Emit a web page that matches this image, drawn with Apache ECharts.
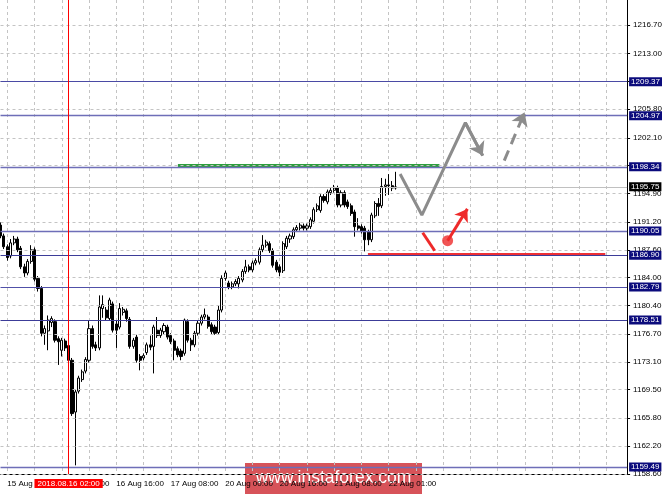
<!DOCTYPE html>
<html><head><meta charset="utf-8">
<script src="https://cdn.jsdelivr.net/npm/echarts@6/dist/echarts.min.js"></script>
<style>html,body{margin:0;padding:0;background:#fff}#c{width:665px;height:494px}</style>
</head><body><div id="c"></div>
<script>
// ---------- data ----------
const tickValues = [1158.60,1162.20,1165.80,1169.50,1173.10,1176.70,1180.40,1184.00,1187.60,1191.20,1194.90,1198.50,1202.10,1205.80,1209.40,1213.00,1216.70];
const levels = [1209.37,1204.97,1198.34,1190.05,1186.90,1182.79,1178.51,1159.49];
const currentPrice = 1195.75;
const xTickLabels = ['15 Aug 08:00','16 Aug 00:00','16 Aug 16:00','17 Aug 08:00','20 Aug 00:00','20 Aug 16:00','21 Aug 08:00','22 Aug 01:00'];
const markerIndex = 20;
const markerLabel = '2018.08.16 02:00';

const opens = [1190.8,1189.4,1188.0,1186.8,1188.5,1189.0,1187.8,1185.4,1184.6,1186.1,
1187.6,1183.9,1182.6,1176.8,1177.1,1178.2,1178.3,1176.1,1174.6,1175.8,
1175.2,1173.3,1166.6,1169.3,1170.8,1171.9,1173.3,1177.4,1175.3,1174.9,
1180.0,1179.8,1178.7,1180.6,1178.0,1177.6,1179.5,1179.7,1178.6,1175.1,
1176.3,1173.8,1173.6,1174.3,1175.3,1175.1,1177.2,1176.5,1177.0,1177.6,
1176.5,1175.8,1174.8,1174.5,1174.2,1178.3,1175.9,1175.3,1176.8,1178.1,
1178.9,1178.9,1177.9,1177.6,1176.9,1179.8,1183.9,1183.3,1182.8,1183.2,
1183.2,1183.7,1184.8,1185.4,1185.0,1185.9,1186.0,1187.6,1188.2,1188.4,
1187.5,1186.0,1185.4,1184.9,1188.0,1189.0,1189.3,1190.2,1190.4,1190.7,
1190.4,1190.6,1191.3,1192.8,1192.7,1194.5,1193.8,1195.0,1195.3,1195.6,
1193.4,1195.0,1193.8,1193.3,1192.5,1190.7,1190.6,1190.4,1189.9,1188.9,
1192.0,1193.6,1193.3,1195.8,1196.0,1195.9,1195.6];
const closes = [1189.4,1188.0,1186.6,1188.5,1189.0,1187.6,1185.4,1184.6,1186.1,1187.6,
1183.8,1182.6,1176.8,1177.4,1178.5,1178.7,1175.9,1175.7,1175.9,1174.9,
1173.3,1166.4,1169.2,1171.0,1171.8,1173.4,1177.4,1175.1,1174.9,1180.2,
1180.5,1178.8,1181.1,1177.2,1177.2,1180.0,1179.9,1178.7,1175.1,1175.9,
1173.3,1173.3,1173.9,1175.3,1175.0,1177.6,1176.5,1177.2,1177.8,1176.3,
1175.7,1174.6,1174.0,1173.8,1178.5,1175.9,1175.3,1176.8,1178.1,1178.9,
1179.2,1177.7,1177.0,1176.8,1179.8,1183.9,1184.6,1182.8,1183.2,1183.5,
1183.9,1184.8,1185.4,1185.0,1185.9,1186.2,1187.6,1188.2,1188.6,1187.5,
1185.6,1185.0,1184.7,1188.4,1189.1,1189.4,1190.2,1190.5,1190.8,1190.4,
1190.7,1191.5,1192.8,1193.3,1194.5,1194.0,1195.1,1195.3,1195.6,1193.4,
1195.0,1193.4,1193.2,1192.3,1190.6,1190.4,1190.0,1188.9,1188.9,1192.1,
1193.6,1193.2,1195.8,1196.0,1195.9,1195.6,1195.75];
const lows = [1189.1,1187.7,1186.2,1186.5,1188.2,1187.3,1185.1,1184.1,1184.3,1185.8,
1183.5,1182.2,1176.4,1175.3,1174.6,1177.6,1175.6,1172.7,1173.8,1174.5,
1173.0,1166.1,1159.7,1169.0,1170.5,1171.6,1173.0,1174.8,1174.5,1174.6,
1178.8,1178.4,1178.4,1176.9,1174.9,1177.3,1179.1,1178.3,1174.8,1174.8,
1173.0,1172.0,1173.3,1174.0,1174.6,1171.6,1176.2,1176.2,1176.7,1176.0,
1175.4,1173.3,1173.7,1173.3,1173.9,1175.6,1174.5,1175.0,1176.5,1177.8,
1178.6,1177.4,1176.7,1176.6,1176.6,1179.5,1183.6,1182.5,1182.5,1182.9,
1182.6,1183.4,1184.5,1184.7,1184.7,1185.6,1185.7,1187.3,1187.9,1187.2,
1185.3,1184.7,1184.2,1184.6,1187.7,1188.5,1189.0,1189.9,1190.1,1190.1,
1190.1,1190.3,1191.0,1192.5,1192.4,1193.7,1193.5,1194.7,1195.0,1193.1,
1193.1,1193.1,1192.9,1192.0,1189.3,1190.1,1189.7,1187.4,1188.2,1188.6,
1191.7,1192.0,1193.0,1194.6,1194.7,1195.2,1195.4];
const highs = [1191.2,1189.7,1188.3,1189.0,1189.4,1189.3,1188.1,1185.8,1186.4,1188.2,
1187.9,1184.2,1182.9,1177.8,1179.1,1179.0,1178.6,1176.4,1176.2,1176.1,
1175.5,1173.6,1169.5,1171.3,1172.1,1173.7,1178.5,1177.8,1175.7,1181.7,
1181.7,1180.2,1181.4,1180.9,1178.4,1180.7,1180.2,1180.0,1178.9,1176.2,
1176.6,1174.1,1174.2,1175.6,1176.5,1177.9,1178.9,1177.5,1178.1,1177.9,
1176.8,1176.1,1175.1,1174.8,1178.7,1178.6,1176.2,1177.1,1178.4,1179.2,
1180.0,1179.2,1178.2,1177.9,1180.4,1184.3,1184.9,1183.6,1183.5,1183.8,
1184.2,1185.1,1186.3,1185.7,1186.2,1186.5,1187.9,1189.5,1188.9,1188.7,
1187.8,1186.3,1185.7,1188.7,1189.4,1189.7,1190.5,1190.8,1191.1,1191.0,
1191.0,1191.8,1193.1,1193.6,1194.8,1194.8,1195.4,1195.6,1196.0,1195.9,
1195.3,1195.3,1194.1,1193.6,1192.8,1191.7,1190.9,1190.7,1190.2,1192.4,
1193.9,1194.3,1196.9,1196.8,1197.4,1196.5,1197.7];

// annotations: [bar index, price]
const greenLine = [[52.1,1198.5],[128.9,1198.5]];
const redLine = [[107.9,1187.0],[177.6,1187.0]];
const grayPath = [[117.35,1197.41],[123.74,1192.10],[136.5,1204.05],[141.6,1199.8]];
const grayDashed = [[147.93,1199.14],[153.9,1205.4]];
const redStroke = [[123.98,1189.81],[127.5,1187.48]];
const redDot = [131.3,1188.78];
const redArrowEnd = [137.1,1192.9];

// ---------- build ----------
const NBARS = 185;
const categories = [];
for (let i = 0; i < NBARS; i++) categories.push('b' + i);
const candles = opens.map((o, i) => [o, closes[i], lows[i], highs[i]]);

const FONT = 'Liberation Sans';
const levelColors = ['#4a4aa4','#6e6eb8','#6e6eb8','#6e6eb8','#3c3c98','#5050a8','#3c3c98','#6e6eb8'];
const levelWidths = [1.2,1.4,1.4,1.4,1.1,1.2,1.1,1.4];
const isTick = i => i >= 2 && (i - 2) % 16 === 0 && (i - 2) / 16 < xTickLabels.length;

const chart = echarts.init(document.getElementById('c'), null, {renderer: 'canvas'});
const arrowMark = (from, to, color, type, size) => ({
  silent: true, symbol: ['none', 'arrow'], symbolSize: size, animation: false,
  label: {show: false}, lineStyle: {color: color, width: 3, type: type},
  data: [[{coord: from}, {coord: to}]]
});
const option = {
  animation: false,
  backgroundColor: '#fff',
  grid: {left: 0.5, right: 37, top: 0, bottom: 20},
  xAxis: [{
    type: 'category', data: categories, boundaryGap: false,
    axisLine: {show: true, onZero: false, lineStyle: {color: '#000', width: 1}},
    axisTick: {show: false},
    axisLabel: {
      interval: (i) => isTick(i),
      formatter: (v, i) => isTick(i) ? xTickLabels[(i - 2) / 16] : '',
      align: 'left', margin: 6, fontSize: 8, fontFamily: FONT, color: '#000'
    },
    splitLine: {show: true, interval: (i) => i >= 2 && (i - 2) % 8 === 0,
      lineStyle: {color: '#c4c4c4', type: [3, 3], width: 1}}
  }, {type: 'value', min: 0, max: NBARS - 1, show: false}],
  yAxis: {
    type: 'value', position: 'right', min: 1158.58, max: 1219.94, scale: true,
    axisLine: {show: true, onZero: false, lineStyle: {color: '#000', width: 1}},
    axisTick: {show: true, length: 3, customValues: tickValues, lineStyle: {color: '#000'}},
    axisLabel: {customValues: tickValues, formatter: v => v.toFixed(2), fontSize: 8,
      fontFamily: FONT, color: '#000', margin: 6},
    splitLine: {show: false}
  },
  series: [
    {
      type: 'line', data: [], z: 1, silent: true,
      markLine: {silent: true, symbol: 'none', animation: false,
        label: {show: false},
        lineStyle: {color: '#c4c4c4', type: [3, 3], width: 1},
        data: tickValues.map(v => ({yAxis: v}))}
    },
    {
      type: 'candlestick', data: candles, xAxisIndex: 0, z: 2, barWidth: 2.6, silent: true,
      itemStyle: {color: '#ffffff', color0: '#000000', borderColor: '#000000', borderColor0: '#000000', borderWidth: 1}
    },
    {
      type: 'line', data: [], z: 3, silent: true,
      markLine: {silent: true, symbol: 'none', animation: false,
        label: {show: true, position: 'end', distance: 2, formatter: p => p.value.toFixed(2),
          backgroundColor: '#0b0b7c', color: '#fff', fontSize: 8, fontFamily: FONT, padding: [1, 2, 0, 2]},
        data: levels.map((v, k) => ({yAxis: v, lineStyle: {color: levelColors[k], width: levelWidths[k], type: 'solid'}}))
          .concat([{yAxis: currentPrice, lineStyle: {color: '#c0c0c0', width: 1, type: 'solid'},
            label: {backgroundColor: '#000'}}])}
    },
    {
      type: 'line', data: greenLine, xAxisIndex: 1, z: 4, symbol: 'none', silent: true,
      lineStyle: {color: '#2e9e3e', width: 3}
    },
    {
      type: 'line', data: redLine, xAxisIndex: 1, z: 4, symbol: 'none', silent: true,
      lineStyle: {color: '#ee3035', width: 3}
    },
    {
      type: 'line', data: grayPath, xAxisIndex: 1, z: 5, symbol: 'none', silent: true,
      lineStyle: {color: '#8c8c8c', width: 3},
      markLine: arrowMark(grayPath[2], grayPath[3], '#8c8c8c', 'solid', 13)
    },
    {
      type: 'line', data: [], xAxisIndex: 1, z: 5, silent: true,
      markLine: arrowMark(grayDashed[0], grayDashed[1], '#8c8c8c', [11, 7], 13)
    },
    {
      type: 'line', data: redStroke, xAxisIndex: 1, z: 5, symbol: 'none', silent: true,
      lineStyle: {color: '#ee2a2a', width: 3}
    },
    {
      type: 'scatter', data: [redDot], xAxisIndex: 1, z: 6, symbolSize: 11, silent: true,
      itemStyle: {color: '#ee2a2a'},
      markLine: arrowMark(redDot, redArrowEnd, '#ee2a2a', 'solid', 12)
    },
    {
      type: 'line', data: [], xAxisIndex: 0, z: 7, silent: true,
      markLine: {silent: true, symbol: 'none', animation: false,
        lineStyle: {color: '#ff0000', width: 1, type: 'solid'},
        label: {show: true, position: 'start', distance: 5, formatter: markerLabel,
          backgroundColor: '#ff0000', color: '#fff', fontSize: 8, fontFamily: FONT, padding: [1, 3, 0, 3]},
        data: [{xAxis: categories[markerIndex]}]}
    }
  ],
  graphic: [{
    type: 'group', left: 245, top: 463, z: 100,
    children: [
      {type: 'rect', shape: {x: 0, y: 0, width: 177, height: 31}, style: {fill: 'rgba(205,40,48,0.8)'}},
      {type: 'text', x: 88.5, y: 15.5, style: {text: 'www.instaforex.com', fill: '#fff',
        font: '17.5px "Liberation Sans", Arial, sans-serif', align: 'center', verticalAlign: 'middle'}}
    ]
  }]
};
chart.setOption(option);
</script>
</body></html>
